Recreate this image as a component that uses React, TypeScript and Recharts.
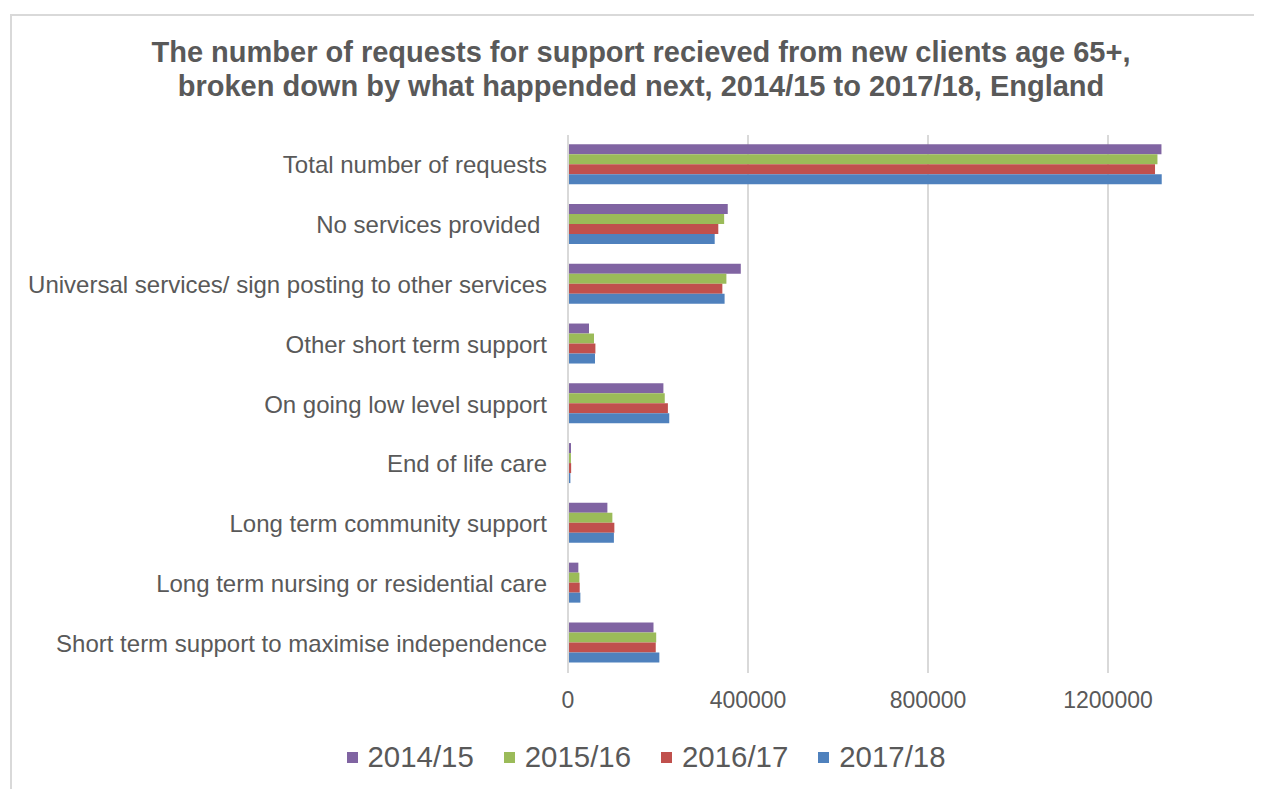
import React from 'react'
import { Bar, BarChart, CartesianGrid, Legend, XAxis, YAxis } from 'recharts'

const categories = [
  'Total number of requests',
  'No services provided\u00A0',
  'Universal services/ sign posting to other services',
  'Other short term support',
  'On going low level support',
  'End of life care',
  'Long term community support',
  'Long term nursing or residential care',
  'Short term support to maximise independence',
]

const v2014 = [1318800, 355000, 384000, 46700, 212000, 6700, 87500, 23000, 190000]
const v2015 = [1309900, 347000, 352000, 57800, 215000, 6500, 98600, 25300, 196000]
const v2016 = [1304500, 334000, 343000, 60900, 222000, 7000, 103000, 26000, 195000]
const v2017 = [1319400, 326000, 348000, 60000, 225000, 5300, 102000, 27500, 203000]

// the 1600000 end of the axis sits past the right edge of the picture
const xDomain = [0, 1600000]
const xTicks = [0, 400000, 800000, 1200000]

const series = [
  { key: 'y2014', label: '2014/15', color: '#8064A2' },
  { key: 'y2015', label: '2015/16', color: '#9BBB59' },
  { key: 'y2016', label: '2016/17', color: '#C0504D' },
  { key: 'y2017', label: '2017/18', color: '#4F81BD' },
]

const data = categories.map((name, i) => ({
  name,
  y2014: v2014[i],
  y2015: v2015[i],
  y2016: v2016[i],
  y2017: v2017[i],
}))

const font = '"Liberation Sans", Arial, sans-serif'
const textColor = '#595959'
const lineColor = '#d9d9d9'

function LegendContent(props: any) {
  const items = props.payload || []
  return (
    <div style={{ display: 'flex', justifyContent: 'center', gap: 30, fontFamily: font }}>
      {items.map((item: any) => (
        <div key={item.value} style={{ display: 'flex', alignItems: 'center' }}>
          <span style={{ width: 11, height: 11, background: item.color, marginRight: 10 }} />
          <span style={{ fontSize: 29.4, color: textColor, lineHeight: '32px' }}>{item.value}</span>
        </div>
      ))}
    </div>
  )
}

export default function App() {
  return (
    <div style={{ position: 'relative', width: 1254, height: 781, overflow: 'hidden', fontFamily: font }}>
      <div
        style={{
          position: 'absolute',
          left: 2,
          top: 6,
          width: 1400,
          height: 900,
          borderLeft: `2px solid ${lineColor}`,
          borderTop: `2px solid ${lineColor}`,
        }}
      />
      <div
        style={{
          position: 'absolute',
          left: 0,
          top: 27,
          width: 1266,
          textAlign: 'center',
          fontWeight: 'bold',
          fontSize: 29,
          lineHeight: '34px',
          color: textColor,
        }}
      >
        The number of requests for support recieved from new clients age 65+,
        <br />
        broken down by what happended next, 2014/15 to 2017/18, England
      </div>
      <div style={{ position: 'absolute', left: 0, top: 0 }}>
        <BarChart
          width={1400}
          height={781}
          data={data}
          layout="vertical"
          margin={{ top: 127, right: 120, left: 0, bottom: 86 }}
          barCategoryGap={9.2}
          barGap={0}
        >
          <CartesianGrid horizontal={false} stroke={lineColor} strokeWidth={2} />
          <XAxis
            type="number"
            domain={xDomain}
            ticks={xTicks}
            axisLine={false}
            tickLine={false}
            tickSize={0}
            tickMargin={19}
            interval={0}
            tick={{ fill: textColor, fontSize: 23, fontFamily: font }}
          />
          <YAxis
            type="category"
            dataKey="name"
            width={560}
            axisLine={{ stroke: lineColor, strokeWidth: 2 }}
            tickLine={false}
            tickSize={0}
            tickMargin={21}
            interval={0}
            tick={{ fill: textColor, fontSize: 24, fontFamily: font }}
          />
          <Legend
            layout="horizontal"
            verticalAlign="middle"
            align="center"
            wrapperStyle={{ top: 733, left: 0, width: 1276 }}
            content={LegendContent}
          />
          {series.map((s) => (
            <Bar key={s.key} dataKey={s.key} name={s.label} fill={s.color} isAnimationActive={false} />
          ))}
        </BarChart>
      </div>
    </div>
  )
}
